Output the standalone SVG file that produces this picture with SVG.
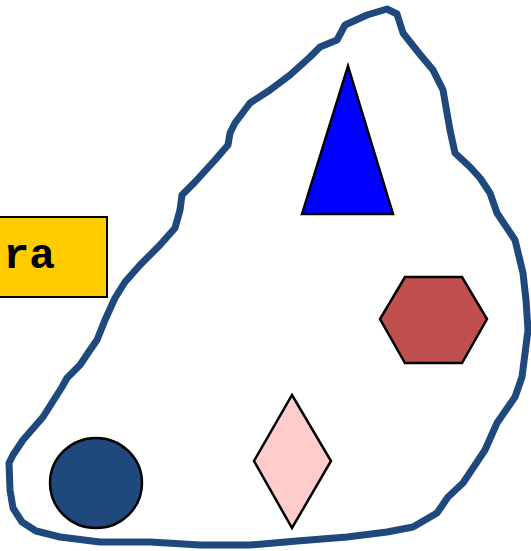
<svg xmlns="http://www.w3.org/2000/svg" width="531" height="551" viewBox="0 0 531 551">
  <style>
    .shape { stroke: #000000; stroke-width: 2.5; stroke-linejoin: miter; }
    .blob { fill: none; stroke: #1F497D; stroke-width: 7; stroke-linejoin: round; stroke-linecap: round; }
    .label { font-family: "Liberation Mono", "Courier New", monospace; font-weight: bold; font-size: 43px; fill: #000000; }
  </style>
  <rect width="531" height="551" fill="#FFFFFF"/>
  <g id="connectors">
    <path id="outline" class="blob" d="M387,9 L397,14 L403,33 L418,52 L433,70 L443,90 L450,130 L455,153 L470,167 L480,178 L490,193 L497,213 L515,240 L523,273 L526,300 L528,330 L522,377 L515,397 L497,423 L485,450 L463,483 L448,497 L437,513 L413,527 L387,532 L347,537 L297,541 L250,545 L200,545 L150,542 L100,542 L60,537 L36,531 L22,522 L13,508 L10,490 L9,463 L13,455 L23,440 L43,417 L62,387 L67,378 L80,365 L88,353 L97,340 L105,320 L115,298 L125,282 L140,265 L160,245 L175,228 L180,210 L182,195 L195,182 L215,160 L228,145 L230,133 L235,123 L250,103 L270,90 L290,75 L310,57 L320,47 L337,40 L345,25 L367,15 Z"/>
  </g>
  <g id="triangle">
    <polygon class="shape" points="348,66 393,214 302,214" fill="#0000FF"/>
  </g>
  <g id="hexagon">
    <polygon class="shape" points="405,277 462,277 487,319 462,363 405,363 380,319" fill="#C0504D"/>
  </g>
  <g id="diamond">
    <polygon class="shape" points="292,395 331,461 292,528 254,461" fill="#FFCCCC"/>
  </g>
  <g id="circle">
    <ellipse class="shape" cx="96" cy="483" rx="46" ry="45" fill="#1F497D"/>
  </g>
  <g id="label">
    <rect x="-60" y="217" width="167" height="80" fill="#FFCC00" stroke="#000000" stroke-width="2"/>
    <text class="label" x="55" y="268" text-anchor="end">ra</text>
  </g>
</svg>
